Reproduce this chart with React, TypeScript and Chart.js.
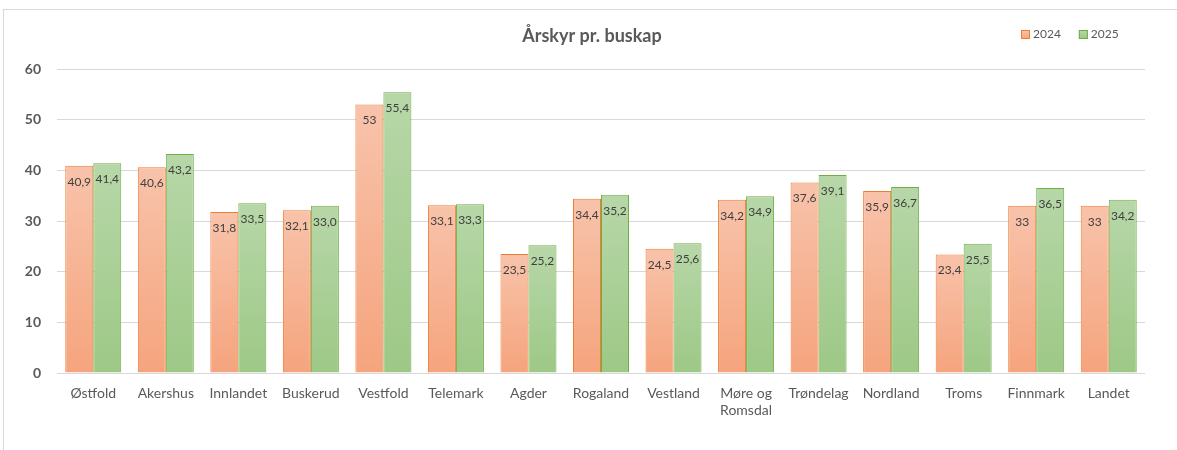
import React, { useEffect, useRef } from "react";
import { Chart, registerables } from "chart.js";

Chart.register(...registerables);

const chartTitle = "Årskyr pr. buskap";
const seriesNames = ["2024", "2025"];
const categories: (string | string[])[] = [
  "Østfold", "Akershus", "Innlandet", "Buskerud", "Vestfold", "Telemark", "Agder",
  "Rogaland", "Vestland", ["Møre og", "Romsdal"], "Trøndelag", "Nordland", "Troms",
  "Finnmark", "Landet",
];
const values2024 = [40.9, 40.6, 31.8, 32.1, 53, 33.1, 23.5, 34.4, 24.5, 34.2, 37.6, 35.9, 23.4, 33, 33];
const values2025 = [41.4, 43.2, 33.5, 33.0, 55.4, 33.3, 25.2, 35.2, 25.6, 34.9, 39.1, 36.7, 25.5, 36.5, 34.2];
const labels2024 = ["40,9", "40,6", "31,8", "32,1", "53", "33,1", "23,5", "34,4", "24,5", "34,2", "37,6", "35,9", "23,4", "33", "33"];
const labels2025 = ["41,4", "43,2", "33,5", "33,0", "55,4", "33,3", "25,2", "35,2", "25,6", "34,9", "39,1", "36,7", "25,5", "36,5", "34,2"];
const yMin = 0;
const yMax = 60;
const yStep = 10;

const FONT = "Lato, 'Open Sans', sans-serif";
const TEXT = "#595959";

const palette = [
  { border: "#ED7D31", top: "#F8C3AB", bottom: "#F5A47D" },
  { border: "#70AD47", top: "#B7D7A8", bottom: "#9DC886" },
];

function gradientFor(idx: number) {
  return (c: any) => {
    const chart = c.chart;
    const p = palette[idx];
    if (!chart.chartArea || c.type !== "data") return p.bottom;
    const y = chart.scales.y;
    const v = c.raw as number;
    const top = y.getPixelForValue(v);
    const bot = y.getPixelForValue(0);
    const g = chart.ctx.createLinearGradient(0, top, 0, bot);
    g.addColorStop(0, p.top);
    g.addColorStop(1, p.bottom);
    return g;
  };
}

const labelPlugin = {
  id: "valueLabels",
  afterDatasetsDraw(chart: any) {
    const ctx = chart.ctx;
    const all = [labels2024, labels2025];
    ctx.save();
    ctx.font = `12px ${FONT}`;
    ctx.fillStyle = "#404040";
    ctx.textAlign = "center";
    ctx.textBaseline = "middle";
    chart.data.datasets.forEach((_: any, di: number) => {
      const meta = chart.getDatasetMeta(di);
      meta.data.forEach((el: any, i: number) => {
        ctx.fillText(all[di][i], el.x, el.y + 16);
      });
    });
    ctx.restore();
  },
};

const headerPlugin = {
  id: "header",
  afterDraw(chart: any) {
    const ctx = chart.ctx;
    ctx.save();
    ctx.font = `bold 18px ${FONT}`;
    ctx.fillStyle = TEXT;
    ctx.textAlign = "center";
    ctx.textBaseline = "alphabetic";
    ctx.fillText(chartTitle, 592, 42);

    // legend
    ctx.font = `12px ${FONT}`;
    ctx.textAlign = "left";
    ctx.textBaseline = "middle";
    let x = 1021;
    chart.data.datasets.forEach((ds: any, i: number) => {
      const p = palette[i];
      const g = ctx.createLinearGradient(0, 30, 0, 39);
      g.addColorStop(0, p.top);
      g.addColorStop(1, p.bottom);
      ctx.fillStyle = g;
      ctx.fillRect(x, 30, 9, 9);
      ctx.strokeStyle = p.border;
      ctx.lineWidth = 1;
      ctx.strokeRect(x + 0.5, 30.5, 8, 8);
      ctx.fillStyle = TEXT;
      ctx.fillText(ds.label, x + 12, 34.5);
      x += 12 + ctx.measureText(ds.label).width + 18;
    });
    ctx.restore();
  },
};

export default function App() {
  const ref = useRef<HTMLCanvasElement>(null);
  useEffect(() => {
    if (!ref.current) return;
    const chart = new Chart(ref.current, {
      type: "bar",
      data: {
        labels: categories as any,
        datasets: [
          {
            label: seriesNames[0],
            data: values2024,
            backgroundColor: gradientFor(0) as any,
            borderColor: palette[0].border,
            borderWidth: 1,
            categoryPercentage: 0.772,
            barPercentage: 1,
          },
          {
            label: seriesNames[1],
            data: values2025,
            backgroundColor: gradientFor(1) as any,
            borderColor: palette[1].border,
            borderWidth: 1,
            categoryPercentage: 0.772,
            barPercentage: 1,
          },
        ],
      },
      options: {
        animation: false,
        responsive: false,
        events: [],
        layout: { padding: { top: 69, right: 32, left: 0, bottom: 0 } },
        plugins: {
          legend: { display: false },
          title: { display: false },
          tooltip: { enabled: false },
        },
        scales: {
          x: {
            grid: { display: false, drawTicks: false },
            border: { display: false },
            ticks: {
              color: TEXT,
              font: { family: FONT, size: 14 },
              padding: 12,
              maxRotation: 0,
              autoSkip: false,
            },
            afterFit(scale: any) {
              scale.height = 77;
            },
          },
          y: {
            min: yMin,
            max: yMax,
            grid: { color: "#D9D9D9", lineWidth: 1, drawTicks: false },
            border: { display: false },
            ticks: {
              stepSize: yStep,
              color: TEXT,
              font: { family: FONT, size: 14, weight: "bold" },
              padding: 16,
            },
            afterFit(scale: any) {
              scale.width = 57;
            },
          },
        },
      },
      plugins: [labelPlugin, headerPlugin],
    });
    return () => chart.destroy();
  }, []);

  return (
    <div style={{ position: "fixed", left: 0, top: 0, width: 1177, height: 450, background: "#fff", overflow: "hidden" }}>
      <div
        style={{
          position: "absolute",
          left: 3,
          top: 9,
          width: 1200,
          height: 480,
          borderTop: "1px solid #D9D9D9",
          borderLeft: "1px solid #D9D9D9",
          boxSizing: "border-box",
        }}
      />
      <canvas ref={ref} width={1177} height={450} style={{ position: "absolute", left: 0, top: 0, display: "block" }} />
    </div>
  );
}
